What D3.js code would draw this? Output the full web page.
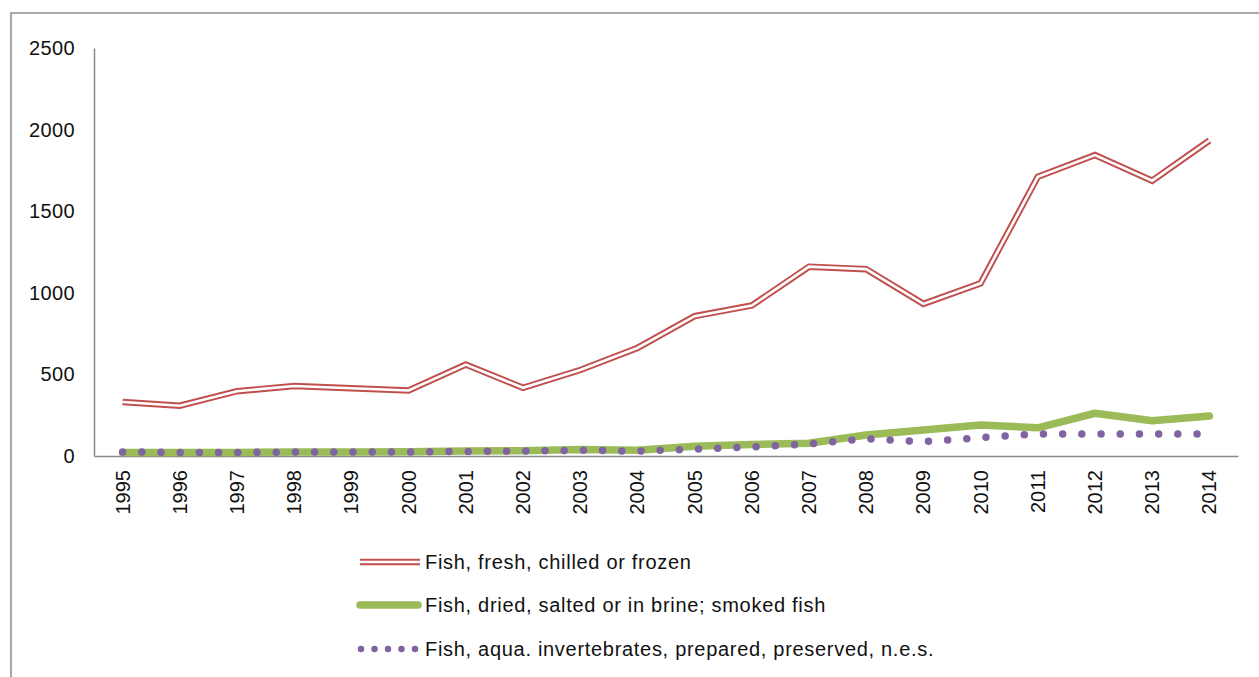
<!DOCTYPE html>
<html>
<head>
<meta charset="utf-8">
<script src="https://cdn.jsdelivr.net/npm/d3@7"></script>
<style>
  html, body { margin: 0; padding: 0; background: #fff; }
  svg { display: block; }
  text { font-family: "Liberation Sans", Arial, Helvetica, sans-serif; fill: #111; }
</style>
</head>
<body>
<svg id="chart" width="1259" height="677"></svg>
<script>
const years = ["1995","1996","1997","1998","1999","2000","2001","2002","2003","2004",
               "2005","2006","2007","2008","2009","2010","2011","2012","2013","2014"];
const freshFish = [331, 308, 397, 429, 415, 401, 560, 418, 527, 662,
                   857, 922, 1160, 1145, 932, 1058, 1711, 1844, 1687, 1933];
const driedFish = [22, 22, 22, 24, 24, 26, 30, 32, 40, 35,
                   60, 70, 78, 129, 159, 190, 173, 262, 216, 245];
const preparedFish = [25, 22, 22, 24, 24, 25, 28, 30, 35, 30,
                      42, 55, 74, 106, 88, 112, 135, 135, 135, 135];
const yTicks = [0, 500, 1000, 1500, 2000, 2500];
const seriesNames = ["Fish, fresh, chilled or frozen",
                     "Fish, dried, salted or in brine; smoked fish",
                     "Fish, aqua. invertebrates, prepared, preserved, n.e.s."];
const colors = ["#c0504d", "#9bbb59", "#8064a2"];

(function () {
const svg = d3.select("#chart");

// outer frame
svg.append("path")
  .attr("d", "M11,700 V13 H1270")
  .attr("fill", "none").attr("stroke", "#a9a9a9").attr("stroke-width", 2.2);

const mLeft = 94, mRight = 1238, mTop = 48, mBottom = 456;
const x = d3.scaleBand().domain(years).range([mLeft, mRight]);
const y = d3.scaleLinear().domain([0, 2500]).range([mBottom, mTop]);
const cx = d => x(d) + x.bandwidth() / 2;

// y axis
const yAxis = svg.append("g").attr("transform", `translate(${mLeft},0)`)
  .call(d3.axisLeft(y).tickValues(yTicks).tickFormat(d3.format("d")).tickSize(0).tickPadding(19));
yAxis.select(".domain").attr("stroke", "#8a8a8a").attr("stroke-width", 1.5);
yAxis.selectAll("text").style("font-size", "20px").style("letter-spacing", "0.4px")
  .attr("fill", "#111")
  .attr("font-family", "Liberation Sans, Arial, sans-serif");

// x axis
const xAxis = svg.append("g").attr("transform", `translate(0,${mBottom})`)
  .call(d3.axisBottom(x).tickSize(0).tickPadding(0));
xAxis.select(".domain").attr("stroke", "#8a8a8a").attr("stroke-width", 1.5);
xAxis.selectAll("text")
  .style("font-size", "20px").attr("fill", "#111")
  .attr("font-family", "Liberation Sans, Arial, sans-serif")
  .attr("transform", "rotate(-90)")
  .attr("text-anchor", "end")
  .attr("x", -14).attr("y", 0).attr("dy", "0.35em");

const line = d3.line().x((d, i) => cx(years[i])).y(d => y(d));

// fresh fish: double line
svg.append("path").datum(freshFish).attr("d", line)
  .attr("fill", "none").attr("stroke", colors[0]).attr("stroke-width", 6.5)
  .attr("stroke-linejoin", "miter");
svg.append("path").datum(freshFish).attr("d", line)
  .attr("fill", "none").attr("stroke", "#fff").attr("stroke-width", 2.6)
  .attr("stroke-linejoin", "miter");

// dried fish: thick green
svg.append("path").datum(driedFish).attr("d", line)
  .attr("fill", "none").attr("stroke", colors[1]).attr("stroke-width", 7.5)
  .attr("stroke-linecap", "round").attr("stroke-linejoin", "round");

// prepared: round dots
svg.append("path").datum(preparedFish).attr("d", line)
  .attr("fill", "none").attr("stroke", colors[2]).attr("stroke-width", 7.5)
  .attr("stroke-linecap", "round").attr("stroke-dasharray", "0,19.2");

// legend
const legend = svg.append("g");
const ly = [562, 605, 649];
legend.append("line").attr("x1", 360).attr("x2", 420).attr("y1", ly[0]).attr("y2", ly[0])
  .attr("stroke", colors[0]).attr("stroke-width", 6.5);
legend.append("line").attr("x1", 358).attr("x2", 422).attr("y1", ly[0]).attr("y2", ly[0])
  .attr("stroke", "#fff").attr("stroke-width", 2.6);
legend.append("line").attr("x1", 360).attr("x2", 418).attr("y1", ly[1]).attr("y2", ly[1])
  .attr("stroke", colors[1]).attr("stroke-width", 7.5).attr("stroke-linecap", "round");
legend.append("line").attr("x1", 361).attr("x2", 416).attr("y1", ly[2]).attr("y2", ly[2])
  .attr("stroke", colors[2]).attr("stroke-width", 6.5).attr("stroke-linecap", "round")
  .attr("stroke-dasharray", "0,13.5");
seriesNames.forEach((n, i) => {
  legend.append("text").attr("x", 425).attr("y", ly[i]).attr("dy", "0.35em")
    .style("font-size", "20px").style("letter-spacing", "0.7px").text(n);
});
})();
</script>
</body>
</html>
